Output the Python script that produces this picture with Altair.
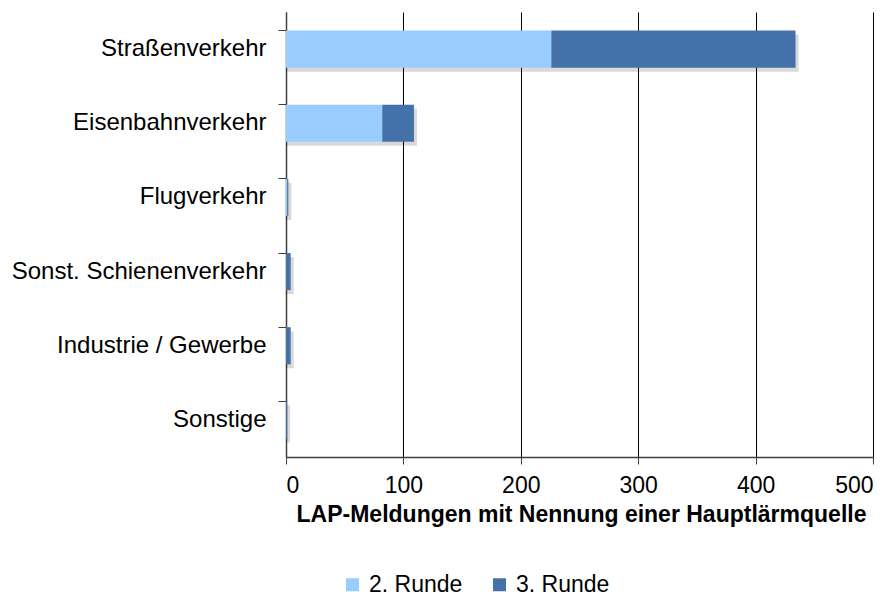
import altair as alt
import pandas as pd

categories = ["Straßenverkehr", "Eisenbahnverkehr", "Flugverkehr",
              "Sonst. Schienenverkehr", "Industrie / Gewerbe", "Sonstige"]
runde2 = [226, 82, 1, 0, 0, 0]
runde3 = [208, 27, 1, 4, 4, 1]
series = ["2. Runde", "3. Runde"]
colors = ["#99CCFF", "#4472A8"]
x_ticks = [0, 100, 200, 300, 400, 500]

rows = []
for i, c in enumerate(categories):
    rows.append({"cat": c, "serie": series[0], "v": runde2[i], "o": 0})
    rows.append({"cat": c, "serie": series[1], "v": runde3[i], "o": 1})
df = pd.DataFrame(rows)

font = "Liberation Sans"
yscale = alt.Scale(paddingInner=0.5, paddingOuter=0.25)
xscale = alt.Scale(domain=[0, 500], nice=False)

yenc = alt.Y("cat:N", sort=categories, title=None, scale=yscale,
             axis=alt.Axis(labelFont=font, labelFontSize=24, labelColor="#000000",
                           labelPadding=12, labelLimit=400, domainColor="#404040",
                           domainWidth=1.5, tickColor="#404040", tickSize=8,
                           bandPosition=0, grid=False))

xenc = alt.X("v:Q", stack="zero", scale=xscale,
             title="LAP-Meldungen mit Nennung einer Hauptlärmquelle",
             axis=alt.Axis(values=x_ticks, labelFont=font,
                           labelFontSize=23, labelColor="#000000", titleFont=font,
                           titleFontSize=23, titleFontWeight="bold", titleColor="#000000",
                           titlePadding=6, titleX=295, titleAlign="center",
                           grid=True, gridColor="#000000", gridWidth=1,
                           domainColor="#404040", domainWidth=1.5,
                           tickColor="#404040", tickSize=7, labelPadding=10))

shadow = alt.Chart(df).mark_bar(color="#000000", opacity=0.15, xOffset=3, yOffset=4).encode(
    x=alt.X("sum(v):Q", scale=xscale),
    y=alt.Y("cat:N", sort=categories, scale=yscale),
)

bars = alt.Chart(df).mark_bar().encode(
    x=xenc,
    y=yenc,
    color=alt.Color("serie:N", sort=series,
                    scale=alt.Scale(domain=series, range=colors),
                    legend=alt.Legend(title=None, orient="none", direction="horizontal",
                                      legendX=55, legendY=561, labelFont=font,
                                      labelFontSize=23, labelColor="#000000",
                                      symbolType="square", symbolSize=169,
                                      symbolStrokeWidth=0, columnPadding=25,
                                      labelOffset=5)),
    order=alt.Order("o:Q"),
)

chart = alt.layer(shadow, bars).properties(
    width=587, height=445,
    background="#ffffff",
    autosize=alt.AutoSizeParams(type="none"),
    padding={"left": 278, "top": 4, "right": 8, "bottom": 141},
).configure_view(stroke=None)

chart.save("out.html", embed_options={"renderer": "svg", "actions": False})
